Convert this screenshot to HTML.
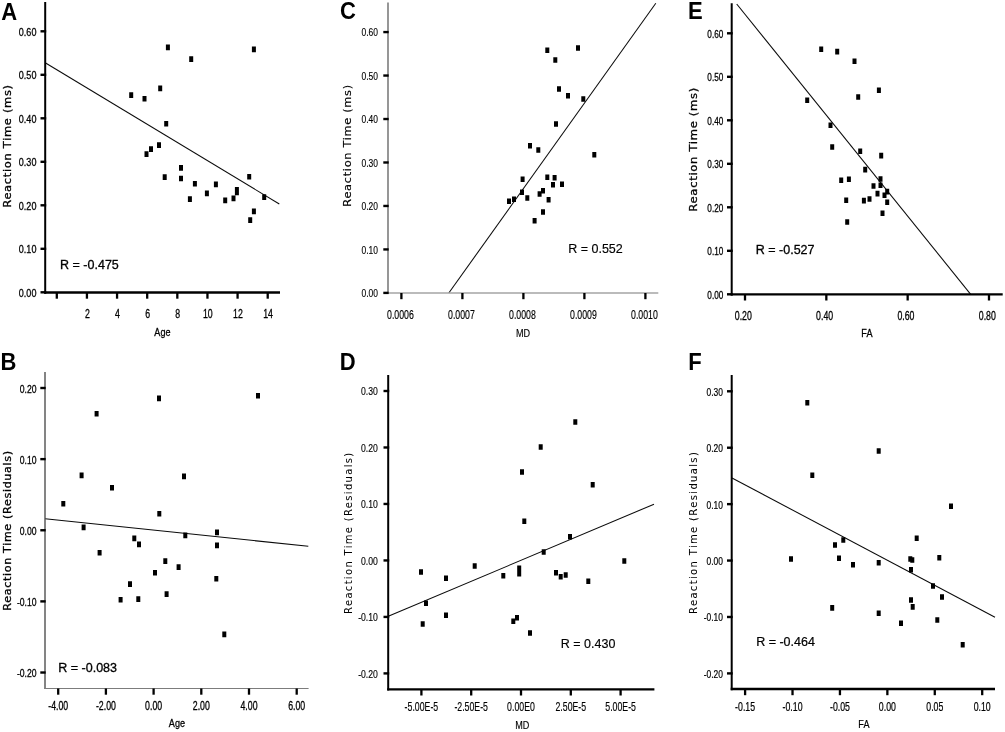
<!DOCTYPE html>
<html lang="en">
<head>
<meta charset="utf-8">
<title>Figure: Reaction Time correlations with Age, MD and FA</title>
<style>
html,body{margin:0;padding:0;background:#fff;}
body{width:1005px;height:732px;overflow:hidden;}
svg{display:block;}
.t{font-family:"Liberation Sans",Arial,sans-serif;fill:#000;stroke:#000;stroke-width:var(--sw,0.3px);}
.y{font-family:"DejaVu Sans","Liberation Sans",Verdana,sans-serif;fill:#000;stroke:#000;stroke-width:var(--ysw,0.3px);}
.b{font-family:"Liberation Sans",Arial,sans-serif;font-weight:bold;fill:#000;}
</style>
</head>
<body>
<svg width="1005" height="732" viewBox="0 0 1005 732">
<rect width="1005" height="732" fill="#fff"/>
<g style="--sw:0.3px;--ysw:0.3px">
<line x1="45.2" y1="62.8" x2="279.3" y2="204" stroke="#0a0a0a" stroke-width="1.05"/>
<line x1="45.2" y1="2" x2="45.2" y2="293.65" stroke="#000" stroke-width="2.0"/>
<line x1="44.20" y1="292.5" x2="280" y2="292.5" stroke="#000" stroke-width="2.3"/>
<line x1="40.50" y1="31.30" x2="46.20" y2="31.30" stroke="#000" stroke-width="2.4"/>
<text transform="translate(36.40,35.70) scale(0.785,1)" text-anchor="end" font-size="11.5" class="t">0.60</text>
<line x1="40.50" y1="74.80" x2="46.20" y2="74.80" stroke="#000" stroke-width="2.4"/>
<text transform="translate(36.40,79.20) scale(0.785,1)" text-anchor="end" font-size="11.5" class="t">0.50</text>
<line x1="40.50" y1="118.30" x2="46.20" y2="118.30" stroke="#000" stroke-width="2.4"/>
<text transform="translate(36.40,122.70) scale(0.785,1)" text-anchor="end" font-size="11.5" class="t">0.40</text>
<line x1="40.50" y1="161.80" x2="46.20" y2="161.80" stroke="#000" stroke-width="2.4"/>
<text transform="translate(36.40,166.20) scale(0.785,1)" text-anchor="end" font-size="11.5" class="t">0.30</text>
<line x1="40.50" y1="205.30" x2="46.20" y2="205.30" stroke="#000" stroke-width="2.4"/>
<text transform="translate(36.40,209.70) scale(0.785,1)" text-anchor="end" font-size="11.5" class="t">0.20</text>
<line x1="40.50" y1="248.80" x2="46.20" y2="248.80" stroke="#000" stroke-width="2.4"/>
<text transform="translate(36.40,253.20) scale(0.785,1)" text-anchor="end" font-size="11.5" class="t">0.10</text>
<line x1="40.50" y1="292.30" x2="46.20" y2="292.30" stroke="#000" stroke-width="2.4"/>
<text transform="translate(36.40,296.70) scale(0.785,1)" text-anchor="end" font-size="11.5" class="t">0.00</text>
<line x1="56.80" y1="292.50" x2="56.80" y2="298.70" stroke="#000" stroke-width="2.3"/>
<line x1="86.93" y1="292.50" x2="86.93" y2="298.70" stroke="#000" stroke-width="2.3"/>
<text transform="translate(87.33,318.40) scale(0.73,1)" text-anchor="middle" font-size="12" class="t">2</text>
<line x1="117.06" y1="292.50" x2="117.06" y2="298.70" stroke="#000" stroke-width="2.3"/>
<text transform="translate(117.46,318.40) scale(0.73,1)" text-anchor="middle" font-size="12" class="t">4</text>
<line x1="147.19" y1="292.50" x2="147.19" y2="298.70" stroke="#000" stroke-width="2.3"/>
<text transform="translate(147.59,318.40) scale(0.73,1)" text-anchor="middle" font-size="12" class="t">6</text>
<line x1="177.32" y1="292.50" x2="177.32" y2="298.70" stroke="#000" stroke-width="2.3"/>
<text transform="translate(177.72,318.40) scale(0.73,1)" text-anchor="middle" font-size="12" class="t">8</text>
<line x1="207.45" y1="292.50" x2="207.45" y2="298.70" stroke="#000" stroke-width="2.3"/>
<text transform="translate(207.85,318.40) scale(0.73,1)" text-anchor="middle" font-size="12" class="t">10</text>
<line x1="237.58" y1="292.50" x2="237.58" y2="298.70" stroke="#000" stroke-width="2.3"/>
<text transform="translate(237.98,318.40) scale(0.73,1)" text-anchor="middle" font-size="12" class="t">12</text>
<line x1="267.71" y1="292.50" x2="267.71" y2="298.70" stroke="#000" stroke-width="2.3"/>
<text transform="translate(268.11,318.40) scale(0.73,1)" text-anchor="middle" font-size="12" class="t">14</text>
<text transform="translate(162.40,336.30) scale(0.79,1)" text-anchor="middle" font-size="11.5" class="t">Age</text>
<text transform="translate(11.1,146) rotate(-90)" text-anchor="middle" font-size="10" class="y" letter-spacing="0.6" textLength="123.5" lengthAdjust="spacingAndGlyphs">Reaction Time (ms)</text>
<text x="60.1" y="269.2" font-size="12.5" class="t">R = -0.475</text>
<text transform="translate(1.24,19.5) scale(0.93,1)" font-size="23.7" class="b">A</text>
<path d="M165.9 44.6h4v5.6h-4zM189.2 56.3h4v5.6h-4zM251.9 46.6h4v5.6h-4zM129.2 92.3h4v5.6h-4zM142.5 96.0h4v5.6h-4zM158.2 85.6h4v5.6h-4zM164.2 121.0h4v5.6h-4zM144.5 151.3h4v5.6h-4zM149.0 146.3h4v5.6h-4zM157.0 142.3h4v5.6h-4zM162.7 174.3h4v5.6h-4zM179.0 165.1h4v5.6h-4zM179.0 175.7h4v5.6h-4zM192.9 181.0h4v5.6h-4zM187.9 196.3h4v5.6h-4zM204.9 190.6h4v5.6h-4zM213.9 181.6h4v5.6h-4zM223.2 197.6h4v5.6h-4zM231.5 195.6h4v5.6h-4zM234.9 187.1h4v5.6h-4zM234.9 189.6h4v5.6h-4zM247.2 174.0h4v5.6h-4zM262.2 194.3h4v5.6h-4zM251.9 208.6h4v5.6h-4zM248.2 217.3h4v5.6h-4z" fill="#000"/>
</g>
<g style="--sw:0.3px;--ysw:0.3px">
<line x1="45" y1="518.7" x2="308.3" y2="546.3" stroke="#0a0a0a" stroke-width="1.05"/>
<line x1="45" y1="372" x2="45" y2="689.10" stroke="#505050" stroke-width="1.4"/>
<line x1="44.30" y1="688.5" x2="308.6" y2="688.5" stroke="#7c7c7c" stroke-width="1.2"/>
<line x1="40.30" y1="388.00" x2="45.70" y2="388.00" stroke="#000" stroke-width="2.4"/>
<text transform="translate(36.60,392.50) scale(0.75,1)" text-anchor="end" font-size="11.5" class="t">0.20</text>
<line x1="40.30" y1="459.13" x2="45.70" y2="459.13" stroke="#000" stroke-width="2.4"/>
<text transform="translate(36.60,463.63) scale(0.75,1)" text-anchor="end" font-size="11.5" class="t">0.10</text>
<line x1="40.30" y1="530.26" x2="45.70" y2="530.26" stroke="#000" stroke-width="2.4"/>
<text transform="translate(36.60,534.76) scale(0.75,1)" text-anchor="end" font-size="11.5" class="t">0.00</text>
<line x1="40.30" y1="601.39" x2="45.70" y2="601.39" stroke="#000" stroke-width="2.4"/>
<text transform="translate(36.60,605.89) scale(0.75,1)" text-anchor="end" font-size="11.5" class="t">-0.10</text>
<line x1="40.30" y1="672.52" x2="45.70" y2="672.52" stroke="#000" stroke-width="2.4"/>
<text transform="translate(36.60,677.02) scale(0.75,1)" text-anchor="end" font-size="11.5" class="t">-0.20</text>
<line x1="58.20" y1="688.50" x2="58.20" y2="694.70" stroke="#000" stroke-width="2.3"/>
<text transform="translate(58.20,709.70) scale(0.73,1)" text-anchor="middle" font-size="12" class="t">-4.00</text>
<line x1="105.90" y1="688.50" x2="105.90" y2="694.70" stroke="#000" stroke-width="2.3"/>
<text transform="translate(105.90,709.70) scale(0.73,1)" text-anchor="middle" font-size="12" class="t">-2.00</text>
<line x1="153.60" y1="688.50" x2="153.60" y2="694.70" stroke="#000" stroke-width="2.3"/>
<text transform="translate(153.60,709.70) scale(0.73,1)" text-anchor="middle" font-size="12" class="t">0.00</text>
<line x1="201.30" y1="688.50" x2="201.30" y2="694.70" stroke="#000" stroke-width="2.3"/>
<text transform="translate(201.30,709.70) scale(0.73,1)" text-anchor="middle" font-size="12" class="t">2.00</text>
<line x1="249.00" y1="688.50" x2="249.00" y2="694.70" stroke="#000" stroke-width="2.3"/>
<text transform="translate(249.00,709.70) scale(0.73,1)" text-anchor="middle" font-size="12" class="t">4.00</text>
<line x1="296.70" y1="688.50" x2="296.70" y2="694.70" stroke="#000" stroke-width="2.3"/>
<text transform="translate(296.70,709.70) scale(0.73,1)" text-anchor="middle" font-size="12" class="t">6.00</text>
<text transform="translate(176.90,726.80) scale(0.79,1)" text-anchor="middle" font-size="11.5" class="t">Age</text>
<text transform="translate(11.1,530.5) rotate(-90)" text-anchor="middle" font-size="10" class="y" letter-spacing="0.6" textLength="160.4" lengthAdjust="spacingAndGlyphs">Reaction Time (Residuals)</text>
<text x="58.3" y="671.8" font-size="12.5" class="t">R = -0.083</text>
<text transform="translate(0.6,369.7) scale(0.93,1)" font-size="23.7" class="b">B</text>
<path d="M157.0 395.6h4v5.6h-4zM256.0 392.9h4v5.6h-4zM94.6 410.9h4v5.6h-4zM79.6 472.6h4v5.6h-4zM110.0 484.9h4v5.6h-4zM182.0 473.6h4v5.6h-4zM61.3 500.9h4v5.6h-4zM157.3 510.9h4v5.6h-4zM81.6 524.6h4v5.6h-4zM132.3 535.6h4v5.6h-4zM137.0 541.6h4v5.6h-4zM183.3 532.6h4v5.6h-4zM215.0 529.6h4v5.6h-4zM215.0 542.6h4v5.6h-4zM97.6 549.9h4v5.6h-4zM163.3 558.3h4v5.6h-4zM176.6 564.3h4v5.6h-4zM153.0 569.9h4v5.6h-4zM214.3 575.9h4v5.6h-4zM128.0 581.3h4v5.6h-4zM164.6 591.3h4v5.6h-4zM118.6 596.9h4v5.6h-4zM136.3 596.3h4v5.6h-4zM222.3 631.6h4v5.6h-4z" fill="#000"/>
</g>
<g style="--sw:0.15px;--ysw:0.15px">
<line x1="655.8" y1="3.3" x2="448.8" y2="293" stroke="#0a0a0a" stroke-width="1.05"/>
<line x1="388" y1="2.6" x2="388" y2="293.70" stroke="#6a6a6a" stroke-width="1.4"/>
<line x1="387.30" y1="293" x2="658.3" y2="293" stroke="#a4a4a4" stroke-width="1.4"/>
<line x1="383.30" y1="32.08" x2="388.70" y2="32.08" stroke="#000" stroke-width="2.4"/>
<text transform="translate(378.00,36.18) scale(0.735,1)" text-anchor="end" font-size="11.5" class="t">0.60</text>
<line x1="383.30" y1="75.55" x2="388.70" y2="75.55" stroke="#000" stroke-width="2.4"/>
<text transform="translate(378.00,79.65) scale(0.735,1)" text-anchor="end" font-size="11.5" class="t">0.50</text>
<line x1="383.30" y1="119.02" x2="388.70" y2="119.02" stroke="#000" stroke-width="2.4"/>
<text transform="translate(378.00,123.12) scale(0.735,1)" text-anchor="end" font-size="11.5" class="t">0.40</text>
<line x1="383.30" y1="162.49" x2="388.70" y2="162.49" stroke="#000" stroke-width="2.4"/>
<text transform="translate(378.00,166.59) scale(0.735,1)" text-anchor="end" font-size="11.5" class="t">0.30</text>
<line x1="383.30" y1="205.96" x2="388.70" y2="205.96" stroke="#000" stroke-width="2.4"/>
<text transform="translate(378.00,210.06) scale(0.735,1)" text-anchor="end" font-size="11.5" class="t">0.20</text>
<line x1="383.30" y1="249.43" x2="388.70" y2="249.43" stroke="#000" stroke-width="2.4"/>
<text transform="translate(378.00,253.53) scale(0.735,1)" text-anchor="end" font-size="11.5" class="t">0.10</text>
<line x1="383.30" y1="292.90" x2="388.70" y2="292.90" stroke="#000" stroke-width="2.4"/>
<text transform="translate(378.00,297.00) scale(0.735,1)" text-anchor="end" font-size="11.5" class="t">0.00</text>
<line x1="401.40" y1="293.00" x2="401.40" y2="299.20" stroke="#000" stroke-width="2.3"/>
<text transform="translate(400.40,319.40) scale(0.73,1)" text-anchor="middle" font-size="12" class="t">0.0006</text>
<line x1="462.40" y1="293.00" x2="462.40" y2="299.20" stroke="#000" stroke-width="2.3"/>
<text transform="translate(461.40,319.40) scale(0.73,1)" text-anchor="middle" font-size="12" class="t">0.0007</text>
<line x1="523.40" y1="293.00" x2="523.40" y2="299.20" stroke="#000" stroke-width="2.3"/>
<text transform="translate(522.40,319.40) scale(0.73,1)" text-anchor="middle" font-size="12" class="t">0.0008</text>
<line x1="584.40" y1="293.00" x2="584.40" y2="299.20" stroke="#000" stroke-width="2.3"/>
<text transform="translate(583.40,319.40) scale(0.73,1)" text-anchor="middle" font-size="12" class="t">0.0009</text>
<line x1="645.40" y1="293.00" x2="645.40" y2="299.20" stroke="#000" stroke-width="2.3"/>
<text transform="translate(644.40,319.40) scale(0.73,1)" text-anchor="middle" font-size="12" class="t">0.0010</text>
<text transform="translate(523.00,337.30) scale(0.79,1)" text-anchor="middle" font-size="11.5" class="t">MD</text>
<text transform="translate(351.2,145.4) rotate(-90)" text-anchor="middle" font-size="10" class="y" letter-spacing="0.6" textLength="122.5" lengthAdjust="spacingAndGlyphs">Reaction Time (ms)</text>
<text x="568.2" y="253.1" font-size="12.5" class="t">R = 0.552</text>
<text transform="translate(340.1,19.3) scale(0.93,1)" font-size="23.7" class="b">C</text>
<path d="M545.3 47.5h4v5.6h-4zM576.0 45.2h4v5.6h-4zM553.3 57.2h4v5.6h-4zM557.0 86.2h4v5.6h-4zM566.0 92.9h4v5.6h-4zM581.3 96.2h4v5.6h-4zM554.0 121.2h4v5.6h-4zM528.0 142.9h4v5.6h-4zM536.3 147.2h4v5.6h-4zM592.3 151.9h4v5.6h-4zM520.6 176.5h4v5.6h-4zM545.3 174.5h4v5.6h-4zM552.6 174.9h4v5.6h-4zM551.0 181.9h4v5.6h-4zM560.0 181.5h4v5.6h-4zM520.0 189.5h4v5.6h-4zM541.0 187.9h4v5.6h-4zM537.6 191.2h4v5.6h-4zM525.3 195.2h4v5.6h-4zM546.6 196.9h4v5.6h-4zM507.0 198.5h4v5.6h-4zM512.0 196.5h4v5.6h-4zM541.0 209.2h4v5.6h-4zM532.6 217.9h4v5.6h-4z" fill="#000"/>
</g>
<g style="--sw:0.15px;--ysw:0.02px">
<line x1="388.3" y1="616.3" x2="654" y2="504.2" stroke="#0a0a0a" stroke-width="1.05"/>
<line x1="388.2" y1="375" x2="388.2" y2="690.45" stroke="#000" stroke-width="2.0"/>
<line x1="387.20" y1="689.3" x2="654.4" y2="689.3" stroke="#000" stroke-width="2.3"/>
<line x1="383.50" y1="391.00" x2="389.20" y2="391.00" stroke="#000" stroke-width="2.4"/>
<text transform="translate(377.90,395.30) scale(0.755,1)" text-anchor="end" font-size="11.5" class="t">0.30</text>
<line x1="383.50" y1="447.48" x2="389.20" y2="447.48" stroke="#000" stroke-width="2.4"/>
<text transform="translate(377.90,451.78) scale(0.755,1)" text-anchor="end" font-size="11.5" class="t">0.20</text>
<line x1="383.50" y1="503.96" x2="389.20" y2="503.96" stroke="#000" stroke-width="2.4"/>
<text transform="translate(377.90,508.26) scale(0.755,1)" text-anchor="end" font-size="11.5" class="t">0.10</text>
<line x1="383.50" y1="560.44" x2="389.20" y2="560.44" stroke="#000" stroke-width="2.4"/>
<text transform="translate(377.90,564.74) scale(0.755,1)" text-anchor="end" font-size="11.5" class="t">0.00</text>
<line x1="383.50" y1="616.92" x2="389.20" y2="616.92" stroke="#000" stroke-width="2.4"/>
<text transform="translate(377.90,621.22) scale(0.755,1)" text-anchor="end" font-size="11.5" class="t">-0.10</text>
<line x1="383.50" y1="673.40" x2="389.20" y2="673.40" stroke="#000" stroke-width="2.4"/>
<text transform="translate(377.90,677.70) scale(0.755,1)" text-anchor="end" font-size="11.5" class="t">-0.20</text>
<line x1="421.40" y1="689.30" x2="421.40" y2="695.50" stroke="#000" stroke-width="2.3"/>
<text transform="translate(421.40,710.90) scale(0.73,1)" text-anchor="middle" font-size="12" class="t">-5.00E-5</text>
<line x1="471.20" y1="689.30" x2="471.20" y2="695.50" stroke="#000" stroke-width="2.3"/>
<text transform="translate(471.20,710.90) scale(0.73,1)" text-anchor="middle" font-size="12" class="t">-2.50E-5</text>
<line x1="521.00" y1="689.30" x2="521.00" y2="695.50" stroke="#000" stroke-width="2.3"/>
<text transform="translate(521.00,710.90) scale(0.73,1)" text-anchor="middle" font-size="12" class="t">0.00E0</text>
<line x1="570.80" y1="689.30" x2="570.80" y2="695.50" stroke="#000" stroke-width="2.3"/>
<text transform="translate(570.80,710.90) scale(0.73,1)" text-anchor="middle" font-size="12" class="t">2.50E-5</text>
<line x1="620.60" y1="689.30" x2="620.60" y2="695.50" stroke="#000" stroke-width="2.3"/>
<text transform="translate(620.60,710.90) scale(0.73,1)" text-anchor="middle" font-size="12" class="t">5.00E-5</text>
<text transform="translate(522.30,729.00) scale(0.79,1)" text-anchor="middle" font-size="11.5" class="t">MD</text>
<text transform="translate(351.6,532.7) rotate(-90)" text-anchor="middle" font-size="9.6" class="y" letter-spacing="1.3" textLength="162.4" lengthAdjust="spacingAndGlyphs">Reaction Time (Residuals)</text>
<text x="560.8" y="648" font-size="12.5" class="t">R = 0.430</text>
<text transform="translate(339.7,369.5) scale(0.93,1)" font-size="23.7" class="b">D</text>
<path d="M573.3 419.2h4v5.6h-4zM538.7 444.2h4v5.6h-4zM520.0 469.2h4v5.6h-4zM590.7 481.9h4v5.6h-4zM522.3 518.5h4v5.6h-4zM568.0 533.9h4v5.6h-4zM541.7 549.2h4v5.6h-4zM622.3 558.2h4v5.6h-4zM419.0 569.2h4v5.6h-4zM472.7 563.2h4v5.6h-4zM444.0 575.5h4v5.6h-4zM501.3 572.9h4v5.6h-4zM517.2 565.5h4v5.6h-4zM517.2 571.0h4v5.6h-4zM554.0 569.9h4v5.6h-4zM558.7 573.9h4v5.6h-4zM563.7 572.2h4v5.6h-4zM586.3 578.5h4v5.6h-4zM424.0 600.5h4v5.6h-4zM420.7 621.2h4v5.6h-4zM444.0 612.5h4v5.6h-4zM511.3 618.5h4v5.6h-4zM515.0 614.9h4v5.6h-4zM528.0 630.2h4v5.6h-4z" fill="#000"/>
</g>
<g style="--sw:0.3px;--ysw:0.3px">
<line x1="736.7" y1="4" x2="970.7" y2="294.3" stroke="#0a0a0a" stroke-width="1.05"/>
<line x1="731.7" y1="3.3" x2="731.7" y2="295.45" stroke="#000" stroke-width="2.0"/>
<line x1="730.70" y1="294.3" x2="1002.7" y2="294.3" stroke="#000" stroke-width="2.3"/>
<line x1="727.00" y1="33.30" x2="732.70" y2="33.30" stroke="#000" stroke-width="2.4"/>
<text transform="translate(723.30,37.90) scale(0.715,1)" text-anchor="end" font-size="11.5" class="t">0.60</text>
<line x1="727.00" y1="76.80" x2="732.70" y2="76.80" stroke="#000" stroke-width="2.4"/>
<text transform="translate(723.30,81.40) scale(0.715,1)" text-anchor="end" font-size="11.5" class="t">0.50</text>
<line x1="727.00" y1="120.30" x2="732.70" y2="120.30" stroke="#000" stroke-width="2.4"/>
<text transform="translate(723.30,124.90) scale(0.715,1)" text-anchor="end" font-size="11.5" class="t">0.40</text>
<line x1="727.00" y1="163.80" x2="732.70" y2="163.80" stroke="#000" stroke-width="2.4"/>
<text transform="translate(723.30,168.40) scale(0.715,1)" text-anchor="end" font-size="11.5" class="t">0.30</text>
<line x1="727.00" y1="207.30" x2="732.70" y2="207.30" stroke="#000" stroke-width="2.4"/>
<text transform="translate(723.30,211.90) scale(0.715,1)" text-anchor="end" font-size="11.5" class="t">0.20</text>
<line x1="727.00" y1="250.80" x2="732.70" y2="250.80" stroke="#000" stroke-width="2.4"/>
<text transform="translate(723.30,255.40) scale(0.715,1)" text-anchor="end" font-size="11.5" class="t">0.10</text>
<line x1="727.00" y1="294.30" x2="732.70" y2="294.30" stroke="#000" stroke-width="2.4"/>
<text transform="translate(723.30,298.90) scale(0.715,1)" text-anchor="end" font-size="11.5" class="t">0.00</text>
<line x1="745.00" y1="294.30" x2="745.00" y2="300.50" stroke="#000" stroke-width="2.3"/>
<text transform="translate(743.30,320.30) scale(0.73,1)" text-anchor="middle" font-size="12" class="t">0.20</text>
<line x1="826.33" y1="294.30" x2="826.33" y2="300.50" stroke="#000" stroke-width="2.3"/>
<text transform="translate(824.63,320.30) scale(0.73,1)" text-anchor="middle" font-size="12" class="t">0.40</text>
<line x1="907.66" y1="294.30" x2="907.66" y2="300.50" stroke="#000" stroke-width="2.3"/>
<text transform="translate(905.96,320.30) scale(0.73,1)" text-anchor="middle" font-size="12" class="t">0.60</text>
<line x1="988.99" y1="294.30" x2="988.99" y2="300.50" stroke="#000" stroke-width="2.3"/>
<text transform="translate(987.29,320.30) scale(0.73,1)" text-anchor="middle" font-size="12" class="t">0.80</text>
<text transform="translate(866.90,337.30) scale(0.79,1)" text-anchor="middle" font-size="11.5" class="t">FA</text>
<text transform="translate(696.6,149.35) rotate(-90)" text-anchor="middle" font-size="10" class="y" letter-spacing="0.6" textLength="124.6" lengthAdjust="spacingAndGlyphs">Reaction Time (ms)</text>
<text x="755.8" y="254.2" font-size="12.5" class="t">R = -0.527</text>
<text transform="translate(687.9,19.4) scale(0.93,1)" font-size="23.7" class="b">E</text>
<path d="M819.2 46.5h4v5.6h-4zM835.2 48.8h4v5.6h-4zM852.5 58.5h4v5.6h-4zM876.9 87.5h4v5.6h-4zM856.2 94.2h4v5.6h-4zM805.2 97.5h4v5.6h-4zM828.5 122.5h4v5.6h-4zM830.2 144.2h4v5.6h-4zM858.2 148.5h4v5.6h-4zM879.2 152.8h4v5.6h-4zM863.2 166.8h4v5.6h-4zM878.5 176.2h4v5.6h-4zM846.9 176.5h4v5.6h-4zM839.2 177.5h4v5.6h-4zM871.5 183.2h4v5.6h-4zM878.5 182.5h4v5.6h-4zM885.2 188.8h4v5.6h-4zM875.5 190.8h4v5.6h-4zM882.5 192.5h4v5.6h-4zM844.2 197.5h4v5.6h-4zM861.9 197.8h4v5.6h-4zM867.5 196.2h4v5.6h-4zM885.2 199.5h4v5.6h-4zM880.5 210.5h4v5.6h-4zM845.2 219.2h4v5.6h-4z" fill="#000"/>
</g>
<g style="--sw:0.22px;--ysw:0.05px">
<line x1="732" y1="478" x2="995" y2="617.2" stroke="#0a0a0a" stroke-width="1.05"/>
<line x1="731.7" y1="375" x2="731.7" y2="690.15" stroke="#000" stroke-width="2.0"/>
<line x1="730.70" y1="689" x2="995" y2="689" stroke="#000" stroke-width="2.3"/>
<line x1="727.00" y1="391.30" x2="732.70" y2="391.30" stroke="#000" stroke-width="2.4"/>
<text transform="translate(722.90,395.70) scale(0.735,1)" text-anchor="end" font-size="11.5" class="t">0.30</text>
<line x1="727.00" y1="447.72" x2="732.70" y2="447.72" stroke="#000" stroke-width="2.4"/>
<text transform="translate(722.90,452.12) scale(0.735,1)" text-anchor="end" font-size="11.5" class="t">0.20</text>
<line x1="727.00" y1="504.14" x2="732.70" y2="504.14" stroke="#000" stroke-width="2.4"/>
<text transform="translate(722.90,508.54) scale(0.735,1)" text-anchor="end" font-size="11.5" class="t">0.10</text>
<line x1="727.00" y1="560.56" x2="732.70" y2="560.56" stroke="#000" stroke-width="2.4"/>
<text transform="translate(722.90,564.96) scale(0.735,1)" text-anchor="end" font-size="11.5" class="t">0.00</text>
<line x1="727.00" y1="616.98" x2="732.70" y2="616.98" stroke="#000" stroke-width="2.4"/>
<text transform="translate(722.90,621.38) scale(0.735,1)" text-anchor="end" font-size="11.5" class="t">-0.10</text>
<line x1="727.00" y1="673.40" x2="732.70" y2="673.40" stroke="#000" stroke-width="2.4"/>
<text transform="translate(722.90,677.80) scale(0.735,1)" text-anchor="end" font-size="11.5" class="t">-0.20</text>
<line x1="745.10" y1="689.00" x2="745.10" y2="695.20" stroke="#000" stroke-width="2.3"/>
<text transform="translate(745.10,711.10) scale(0.73,1)" text-anchor="middle" font-size="12" class="t">-0.15</text>
<line x1="792.52" y1="689.00" x2="792.52" y2="695.20" stroke="#000" stroke-width="2.3"/>
<text transform="translate(792.52,711.10) scale(0.73,1)" text-anchor="middle" font-size="12" class="t">-0.10</text>
<line x1="839.94" y1="689.00" x2="839.94" y2="695.20" stroke="#000" stroke-width="2.3"/>
<text transform="translate(839.94,711.10) scale(0.73,1)" text-anchor="middle" font-size="12" class="t">-0.05</text>
<line x1="887.36" y1="689.00" x2="887.36" y2="695.20" stroke="#000" stroke-width="2.3"/>
<text transform="translate(887.36,711.10) scale(0.73,1)" text-anchor="middle" font-size="12" class="t">0.00</text>
<line x1="934.78" y1="689.00" x2="934.78" y2="695.20" stroke="#000" stroke-width="2.3"/>
<text transform="translate(934.78,711.10) scale(0.73,1)" text-anchor="middle" font-size="12" class="t">0.05</text>
<line x1="982.20" y1="689.00" x2="982.20" y2="695.20" stroke="#000" stroke-width="2.3"/>
<text transform="translate(982.20,711.10) scale(0.73,1)" text-anchor="middle" font-size="12" class="t">0.10</text>
<text transform="translate(863.90,727.60) scale(0.79,1)" text-anchor="middle" font-size="11.5" class="t">FA</text>
<text transform="translate(697,532.4) rotate(-90)" text-anchor="middle" font-size="9.7" class="y" letter-spacing="1.3" textLength="163.1" lengthAdjust="spacingAndGlyphs">Reaction Time (Residuals)</text>
<text x="756.2" y="645.6" font-size="12.5" class="t">R = -0.464</text>
<text transform="translate(688.3,369.8) scale(0.93,1)" font-size="23.7" class="b">F</text>
<path d="M805.3 399.9h4v5.6h-4zM876.7 448.2h4v5.6h-4zM810.3 472.5h4v5.6h-4zM949.0 503.5h4v5.6h-4zM914.7 535.5h4v5.6h-4zM841.3 537.2h4v5.6h-4zM833.0 542.2h4v5.6h-4zM789.0 556.2h4v5.6h-4zM837.0 555.5h4v5.6h-4zM851.0 561.9h4v5.6h-4zM876.7 559.9h4v5.6h-4zM908.3 556.2h4v5.6h-4zM910.3 557.2h4v5.6h-4zM937.3 554.9h4v5.6h-4zM909.0 566.9h4v5.6h-4zM931.0 583.2h4v5.6h-4zM940.0 594.2h4v5.6h-4zM909.0 597.2h4v5.6h-4zM910.7 604.1h4v5.6h-4zM830.2 605.1h4v5.6h-4zM876.7 610.5h4v5.6h-4zM899.0 620.5h4v5.6h-4zM935.3 617.2h4v5.6h-4zM960.7 641.9h4v5.6h-4z" fill="#000"/>
</g>
</svg>
</body>
</html>
